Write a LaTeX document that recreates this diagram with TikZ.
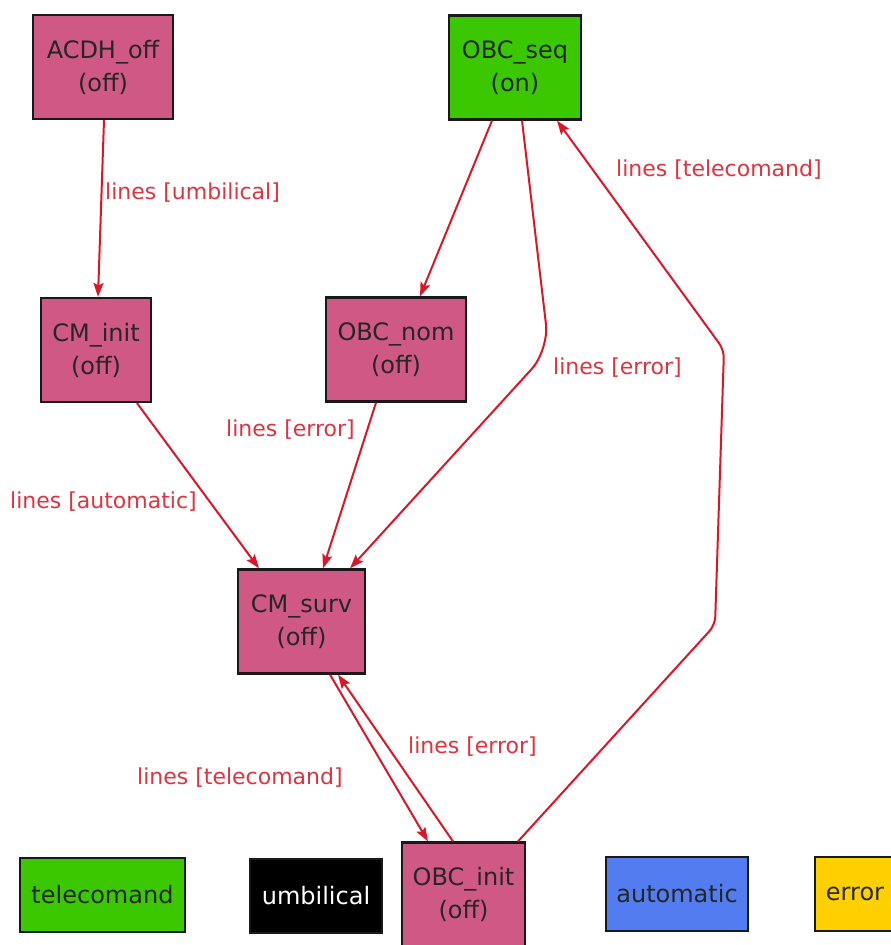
\documentclass[tikz,border=0pt]{standalone}
\usepackage{fontspec}
\setmainfont{DejaVu Sans}
\usetikzlibrary{arrows.meta}
\definecolor{statepink}{RGB}{208,88,132}
\definecolor{stategreen}{RGB}{60,200,0}
\definecolor{keyblue}{RGB}{82,124,240}
\definecolor{keyyellow}{RGB}{255,208,0}
\definecolor{edgered}{RGB}{220,22,40}
\definecolor{labelred}{RGB}{222,52,64}
\begin{document}
\begin{tikzpicture}[x=1pt,y=-1pt,
  statebox/.style={draw=black!90, line width=2.2pt, fill=statepink,
    minimum width=#1, minimum height=104pt, inner sep=0pt, align=center,
    font=\fontsize{24}{33}\selectfont, text=black!85},
  keybox/.style={draw=black!90, line width=2pt, minimum height=74pt,
    inner sep=0pt, font=\fontsize{24}{28}\selectfont, text=black!85},
  edge/.style={draw=edgered, line width=2pt,
    -{Stealth[length=14pt,width=10pt,inset=2.5pt]}},
  edgelabel/.style={anchor=base west, inner sep=0pt, text=labelred,
    font=\fontsize{22}{26}\selectfont}]

% canvas
\fill[white] (0,0) rectangle (891,945);
\useasboundingbox (0,0) rectangle (891,945);

% states
\node[statebox=140pt] (acdh)    at (103,67)    {ACDH\_off\\(off)};
\node[statebox=132pt, fill=stategreen] (obcseq) at (515,67.5) {OBC\_seq\\(on)};
\node[statebox=110pt] (cminit)  at (96,350)    {CM\_init\\(off)};
\node[statebox=140pt] (obcnom)  at (396,349.5) {OBC\_nom\\(off)};
\node[statebox=127pt] (cmsurv)  at (301.5,621.5) {CM\_surv\\(off)};
\node[statebox=123pt] (obcinit) at (463.5,894.5) {OBC\_init\\(off)};

% legend
\node[keybox, fill=stategreen, minimum width=165pt] (ktele) at (102.5,895) {telecomand};
\node[keybox, fill=black, text=white, minimum width=132pt] (kumb) at (316,896) {umbilical};
\node[keybox, fill=keyblue, minimum width=142pt] (kauto) at (677,894) {automatic};
\node[keybox, fill=keyyellow, minimum width=80pt] (kerr) at (855,894) {error};

% bend points of the long connectors
\coordinate (errbend)  at (549,350);
\coordinate (telebendA) at (715,625);
\coordinate (telebendB) at (724,350);

% transitions
\draw[edge] ([xshift=1pt]acdh.south) -- ([xshift=2pt]cminit.north);
\draw[edge] ([xshift=41pt]cminit.south) -- ([xshift=-42.5pt]cmsurv.north);
\draw[edge] ([xshift=-20pt]obcnom.south) -- ([xshift=21.5pt]cmsurv.north);
\draw[edge] ([xshift=-23pt]obcseq.south) -- ([xshift=24pt]obcnom.north);
\draw[edge, rounded corners=26pt] ([xshift=7pt]obcseq.south) -- (errbend)
  -- ([xshift=48.5pt]cmsurv.north);
\draw[edge, rounded corners=8pt] ([xshift=54.5pt]obcinit.north) -- (telebendA)
  -- (telebendB) -- ([xshift=42pt]obcseq.south);
\draw[edge] ([xshift=28.5pt]cmsurv.south) -- ([xshift=-35.5pt]obcinit.north);
\draw[edge] ([xshift=-10.5pt]obcinit.north) -- ([xshift=36.5pt]cmsurv.south);

% transition labels
\node[edgelabel] (lumb)   at (105,199) {lines [umbilical]};
\node[edgelabel] (lauto)  at (10,508)  {lines [automatic]};
\node[edgelabel] (lerrA)  at (226,436) {lines [error]};
\node[edgelabel] (lerrB)  at (553,374) {lines [error]};
\node[edgelabel] (ltelA)  at (616,176) {lines [telecomand]};
\node[edgelabel] (ltelB)  at (137,784) {lines [telecomand]};
\node[edgelabel] (lerrC)  at (408,753) {lines [error]};
\end{tikzpicture}
\end{document}
